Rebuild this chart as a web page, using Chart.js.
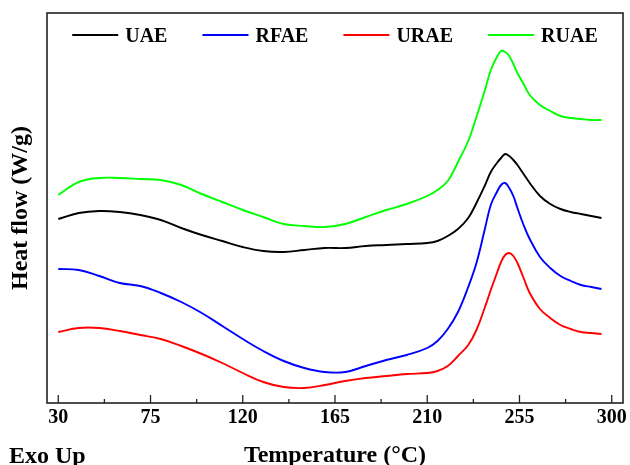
<!DOCTYPE html>
<html>
<head>
<meta charset="utf-8">
<script src="https://cdn.jsdelivr.net/npm/chart.js@4.4.1/dist/chart.umd.min.js"></script>
<style>
  body { margin: 0; background: #fff; }
  canvas { display: block; }
</style>
</head>
<body>
<canvas id="dsc" width="630" height="465"></canvas>
<script>
// temperature grid (°C)
const temperature = [30, 40, 50, 60, 70, 80, 90, 100, 110, 120, 130, 140, 150, 160, 170, 180, 190, 200, 210, 215,
  220, 225, 230, 234, 238, 241, 244, 246, 248, 250, 252, 254, 257, 260, 265, 270, 275, 280, 285, 290, 295];

// heat flow (W/g, curves shifted for clarity)
const uae = [1.84, 1.90, 1.92, 1.91, 1.88, 1.83, 1.75, 1.68, 1.62, 1.56, 1.52, 1.51, 1.53, 1.55, 1.55, 1.57, 1.58, 1.59, 1.60, 1.62,
  1.67, 1.74, 1.85, 2.00, 2.17, 2.31, 2.40, 2.45, 2.49, 2.47, 2.43, 2.38, 2.29, 2.20, 2.07, 1.99, 1.94, 1.91, 1.89, 1.87, 1.85];
const rfae = [1.34, 1.33, 1.27, 1.20, 1.17, 1.10, 1.01, 0.90, 0.77, 0.64, 0.52, 0.42, 0.35, 0.31, 0.31, 0.37, 0.43, 0.48, 0.55, 0.62,
  0.74, 0.91, 1.16, 1.40, 1.73, 1.98, 2.11, 2.18, 2.20, 2.15, 2.07, 1.95, 1.78, 1.64, 1.46, 1.35, 1.27, 1.22, 1.18, 1.16, 1.14];
const urae = [0.71, 0.75, 0.75, 0.72, 0.68, 0.64, 0.57, 0.49, 0.40, 0.30, 0.21, 0.16, 0.15, 0.18, 0.22, 0.25, 0.27, 0.29, 0.30, 0.32,
  0.37, 0.47, 0.58, 0.73, 0.95, 1.13, 1.30, 1.41, 1.48, 1.50, 1.47, 1.40, 1.25, 1.10, 0.94, 0.85, 0.78, 0.74, 0.71, 0.70, 0.69];
const ruae = [2.08, 2.21, 2.25, 2.25, 2.24, 2.23, 2.18, 2.09, 2.01, 1.93, 1.86, 1.79, 1.77, 1.76, 1.79, 1.86, 1.93, 1.99, 2.07, 2.13,
  2.22, 2.41, 2.62, 2.86, 3.12, 3.33, 3.46, 3.52, 3.51, 3.47, 3.39, 3.30, 3.19, 3.08, 2.98, 2.92, 2.87, 2.85, 2.84, 2.83, 2.83];

const seriesNames = ["UAE", "RFAE", "URAE", "RUAE"];
const seriesColors = ["#000000", "#0000ff", "#ff0000", "#00ff00"];
const tickValues = [30, 75, 120, 165, 210, 255, 300];

const serif = "'Liberation Serif', 'Times New Roman', serif";

const toPoints = (vals) => temperature.map((t, i) => ({ x: t, y: vals[i] }));

// frame, inward ticks, legend inside the box and the "Exo Up" note
const decorations = {
  id: "decorations",
  afterDatasetsDraw(chart) {
    const { ctx, chartArea: a, scales } = chart;
    const xs = scales.x;
    ctx.save();
    ctx.strokeStyle = "#222";
    ctx.lineWidth = 1.6;
    ctx.strokeRect(a.left, a.top, a.right - a.left, a.bottom - a.top);

    // major + minor ticks pointing into the plot
    ctx.lineWidth = 1.3;
    tickValues.forEach((v, i) => {
      const px = xs.getPixelForValue(v);
      ctx.beginPath();
      ctx.moveTo(px, a.bottom);
      ctx.lineTo(px, a.bottom - 8);
      ctx.stroke();
      if (i < tickValues.length - 1) {
        const mx = xs.getPixelForValue((v + tickValues[i + 1]) / 2);
        ctx.beginPath();
        ctx.moveTo(mx, a.bottom);
        ctx.lineTo(mx, a.bottom - 4);
        ctx.stroke();
      }
    });

    // legend
    ctx.font = "bold 20px " + serif;
    ctx.textBaseline = "middle";
    ctx.textAlign = "left";
    const lineLen = 46, gapText = 7, gapItem = 35;
    const widths = seriesNames.map((n) => lineLen + gapText + ctx.measureText(n).width);
    const total = widths.reduce((s, w) => s + w, 0) + gapItem * (widths.length - 1);
    let x = (a.left + a.right) / 2 - total / 2;
    const y = a.top + 22;
    seriesNames.forEach((n, i) => {
      ctx.strokeStyle = seriesColors[i];
      ctx.lineWidth = 1.8;
      ctx.beginPath();
      ctx.moveTo(x, y);
      ctx.lineTo(x + lineLen, y);
      ctx.stroke();
      ctx.fillStyle = "#000";
      ctx.fillText(n, x + lineLen + gapText, y + 2);
      x += widths[i] + gapItem;
    });

    ctx.font = "bold 24px " + serif;
    ctx.textBaseline = "alphabetic";
    ctx.fillText("Exo Up", 9, 463);
    ctx.restore();
  }
};

new Chart(document.getElementById("dsc"), {
  type: "line",
  data: {
    datasets: seriesNames.map((name, i) => ({
      label: name,
      data: toPoints([uae, rfae, urae, ruae][i]),
      borderColor: seriesColors[i],
      borderWidth: 1.9,
      pointRadius: 0,
      fill: false,
      tension: 0.4
    }))
  },
  options: {
    responsive: false,
    animation: false,
    layout: { padding: { top: 13, left: 6, right: 7, bottom: 0 } },
    plugins: {
      legend: { display: false },
      tooltip: { enabled: false }
    },
    scales: {
      x: {
        type: "linear",
        min: 24.5,
        max: 305.5,
        afterBuildTicks: (scale) => {
          scale.ticks = tickValues.map((v) => ({ value: v }));
        },
        grid: { display: false, drawTicks: false },
        border: { display: false },
        ticks: {
          color: "#000",
          padding: 3,
          maxRotation: 0,
          font: { family: serif, size: 20, weight: "bold", lineHeight: 1.2 }
        },
        title: {
          display: true,
          text: "Temperature (°C)",
          color: "#000",
          padding: { top: 12.8, bottom: 0 },
          font: { family: serif, size: 24, weight: "bold", lineHeight: 0.8 }
        }
      },
      y: {
        min: 0,
        max: 3.9,
        grid: { display: false, drawTicks: false },
        border: { display: false },
        ticks: { display: false },
        title: {
          display: true,
          text: "Heat flow (W/g)",
          color: "#000",
          padding: { top: 0, bottom: 12.2 },
          font: { family: serif, size: 24, weight: "bold", lineHeight: 1.2 }
        }
      }
    }
  },
  plugins: [decorations]
});
</script>
</body>
</html>
